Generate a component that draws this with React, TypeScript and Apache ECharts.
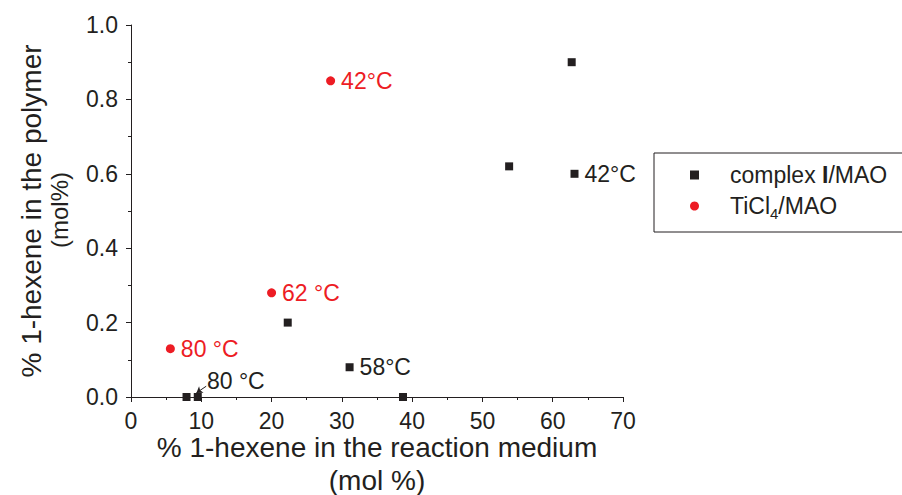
import React, { useEffect, useRef } from "react";
import * as echarts from "echarts";

const complexX = [62.7, 53.8, 63.1, 22.3, 31.1, 38.7, 7.9, 9.5];
const complexY = [0.9, 0.62, 0.6, 0.2, 0.08, 0.0, 0.0, 0.0];
const complexLabels = ["", "", "42°C", "", "58°C", "", "", ""];

const ticlX = [28.4, 20.0, 5.6];
const ticlY = [0.85, 0.28, 0.13];
const ticlLabels = ["42°C", "62 °C", "80 °C"];

const annotText = "80 °C";
const annotPos = [10.8, 0.042];
const arrowFrom = [10.7, 0.029];
const arrowTo = [9.3, 0.011];

const xTicks = [0, 10, 20, 30, 40, 50, 60, 70];
const yTicks = [0.0, 0.2, 0.4, 0.6, 0.8, 1.0];

const xTitle = "% 1-hexene in the reaction medium\n(mol %)";
const yTitle = "% 1-hexene in the polymer";
const yTitleUnit = "(mol%)";

const INK = "#231f20";
const RED = "#ed1c24";
const FONT = "Liberation Sans";

export default function App() {
  const ref = useRef<HTMLDivElement>(null);
  useEffect(() => {
    if (!ref.current) return;
    const chart = echarts.init(ref.current, undefined, { renderer: "svg" });
    const lbl = (txt: string, color: string) =>
      txt
        ? {
            show: true,
            position: "right",
            distance: 6,
            formatter: txt,
            color,
            fontSize: 23,
            fontFamily: FONT,
          }
        : { show: false };
    chart.setOption({
      animation: false,
      backgroundColor: "#ffffff",
      grid: {
        left: 131,
        right: 279,
        top: 25,
        bottom: 98,
        containLabel: false,
        outerBoundsMode: "none",
      },
      legend: {
        left: 654,
        top: 153,
        orient: "vertical",
        data: ["complex I/MAO", "TiCl4/MAO"],
        itemWidth: 9,
        itemHeight: 9,
        itemGap: 0,
        padding: [7, 200, 11, 36],
        borderColor: INK,
        borderWidth: 1,
        itemStyle: { opacity: 1 },
        formatter: (name: string) =>
          name === "complex I/MAO"
            ? "{s|}{n|complex }{b|I}{n|/MAO}"
            : "{s|}{n|TiCl}{sub|4}{n|/MAO}",
        textStyle: {
          color: INK,
          fontFamily: FONT,
          fontSize: 23,
          lineHeight: 30,
          rich: {
            s: { width: 26 },
            n: { fontSize: 23, fontFamily: FONT, color: INK, lineHeight: 30 },
            b: { fontSize: 23, fontFamily: FONT, color: INK, fontWeight: "bold", lineHeight: 30 },
            sub: {
              fontSize: 15,
              fontFamily: FONT,
              color: INK,
              lineHeight: 30,
              verticalAlign: "bottom",
              padding: [16, 0, 0, 0],
            },
          },
        },
      },
      graphic: [
        {
          type: "text",
          x: 59,
          y: 210,
          rotation: Math.PI / 2,
          style: {
            text: yTitleUnit,
            fill: INK,
            fontSize: 24,
            fontFamily: FONT,
            align: "center",
            verticalAlign: "middle",
          },
        },
      ],
      xAxis: {
        type: "value",
        min: xTicks[0],
        max: xTicks[xTicks.length - 1],
        interval: 10,
        name: xTitle,
        nameLocation: "middle",
        nameGap: 34,
        nameMoveOverlap: false,
        nameTextStyle: {
          color: INK,
          fontSize: 28,
          fontFamily: FONT,
          lineHeight: 33,
          align: "center",
        },
        axisLine: { show: true, lineStyle: { color: INK, width: 1 } },
        axisTick: { show: true, inside: false, length: 5, lineStyle: { color: INK } },
        minorTick: { show: true, splitNumber: 2, length: 3, lineStyle: { color: INK } },
        splitLine: { show: false },
        axisLabel: { color: INK, fontSize: 23, fontFamily: FONT, margin: 12 },
      },
      yAxis: {
        type: "value",
        min: yTicks[0],
        max: yTicks[yTicks.length - 1],
        interval: 0.2,
        name: yTitle,
        nameLocation: "middle",
        nameGap: 85,
        nameMoveOverlap: false,
        nameRotate: 90,
        nameTextStyle: {
          color: INK,
          fontFamily: FONT,
          fontSize: 28,
          lineHeight: 30,
          align: "center",
        },
        axisLine: { show: true, lineStyle: { color: INK, width: 1 } },
        axisTick: { show: true, inside: false, length: 5, lineStyle: { color: INK } },
        minorTick: { show: true, splitNumber: 2, length: 3, lineStyle: { color: INK } },
        splitLine: { show: false },
        axisLabel: {
          color: INK,
          fontSize: 23,
          fontFamily: FONT,
          margin: 13,
          formatter: (v: number) => v.toFixed(1),
        },
      },
      series: [
        {
          name: "complex I/MAO",
          type: "scatter",
          symbol: "rect",
          symbolSize: 8,
          itemStyle: { color: INK, opacity: 1 },
          data: complexX.map((x, i) => ({
            value: [x, complexY[i]],
            label: lbl(complexLabels[i], INK),
          })),
          markLine: {
            silent: true,
            symbol: ["none", "arrow"],
            symbolSize: 6,
            label: { show: false },
            lineStyle: { color: INK, width: 1, type: "solid", opacity: 1 },
            data: [[{ coord: arrowFrom }, { coord: arrowTo }]],
          },
          z: 3,
        },
        {
          name: "TiCl4/MAO",
          type: "scatter",
          symbol: "circle",
          symbolSize: 9,
          itemStyle: { color: RED, opacity: 1 },
          data: ticlX.map((x, i) => ({
            value: [x, ticlY[i]],
            label: lbl(ticlLabels[i], RED),
          })),
          z: 3,
        },
        {
          name: "annotation",
          type: "scatter",
          symbolSize: 0,
          silent: true,
          itemStyle: { opacity: 1 },
          data: [
            {
              value: annotPos,
              label: {
                show: true,
                position: "right",
                distance: 0,
                formatter: annotText,
                color: INK,
                fontSize: 23,
                fontFamily: FONT,
              },
            },
          ],
        },
      ],
    });
    return () => chart.dispose();
  }, []);
  return (
    <div
      ref={ref}
      style={{ position: "absolute", left: 0, top: 0, width: 902, height: 495 }}
    />
  );
}
